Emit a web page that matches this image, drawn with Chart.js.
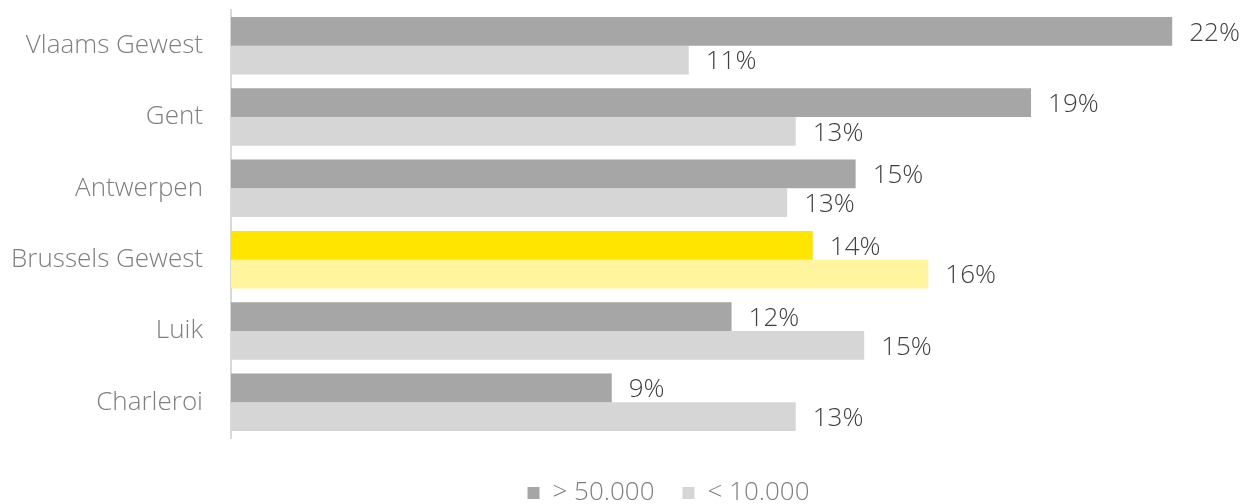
<!DOCTYPE html>
<html>
<head>
<meta charset="utf-8">
<script src="https://cdn.jsdelivr.net/npm/chart.js@4/dist/chart.umd.min.js"></script>
<style>
html,body{margin:0;padding:0;background:#fff;}
#wrap{width:1256px;height:504px;position:relative;}
</style>
</head>
<body>
<div id="wrap"><canvas id="c" width="1256" height="504"></canvas></div>
<script>
const categories = ["Vlaams Gewest", "Gent", "Antwerpen", "Brussels Gewest", "Luik", "Charleroi"];
const seriesNames = ["> 50.000", "< 10.000"];
const valuesLarge = [22.0, 18.7, 14.6, 13.6, 11.7, 8.9];
const valuesSmall = [10.7, 13.2, 13.0, 16.3, 14.8, 13.2];
const highlightCategory = "Brussels Gewest";

const FONT = "'Open Sans', sans-serif";
const colorsLarge = {normal: "#A6A6A6", highlight: "#FFE600"};
const colorsSmall = {normal: "#D6D6D6", highlight: "#FFF59E"};

function colorFor(set) {
  return function(ctx) {
    if (ctx.dataIndex !== undefined && categories[ctx.dataIndex] === highlightCategory) return set.highlight;
    return set.normal;
  };
}

const valueLabels = {
  id: "valueLabels",
  afterDatasetsDraw(chart) {
    const ctx = chart.ctx;
    ctx.save();
    ctx.font = "300 26px " + FONT;
    ctx.fillStyle = "#404040";
    ctx.textAlign = "left";
    ctx.textBaseline = "middle";
    chart.data.datasets.forEach((ds, di) => {
      const meta = chart.getDatasetMeta(di);
      meta.data.forEach((bar, i) => {
        ctx.fillText(Math.round(ds.data[i]) + "%", bar.x + 17, bar.y + 2);
      });
    });
    ctx.restore();
  }
};

const legendShift = {
  id: "legendShift",
  afterLayout(chart) {
    const lg = chart.legend;
    if (!lg) return;
    const dx = 61, dy = 14;
    lg.left += dx; lg.right += dx;
    lg.top += dy; lg.bottom += dy;
  }
};

new Chart(document.getElementById("c"), {
  type: "bar",
  data: {
    labels: categories,
    datasets: [
      {label: seriesNames[0], data: valuesLarge, backgroundColor: colorFor(colorsLarge), borderWidth: 0},
      {label: seriesNames[1], data: valuesSmall, backgroundColor: colorFor(colorsSmall), borderWidth: 0}
    ]
  },
  options: {
    indexAxis: "y",
    responsive: false,
    animation: false,
    devicePixelRatio: 1,
    layout: {padding: {top: 10, right: 41, bottom: 2, left: 0}},
    datasets: {bar: {categoryPercentage: 0.805, barPercentage: 1.0}},
    scales: {
      x: {display: false, min: 0, max: 23},
      y: {
        grid: {display: false, drawTicks: false},
        border: {display: true, color: "#D9D9D9", width: 2},
        ticks: {color: "#7F7F7F", font: {family: FONT, size: 26, weight: 300}, padding: 28},
        afterFit(scale) { scale.width = 231; scale.paddingTop = 0; scale.paddingBottom = 0; }
      }
    },
    plugins: {
      legend: {
        position: "bottom",
        labels: {
          color: "#7F7F7F",
          font: {family: FONT, size: 26, weight: 300},
          boxWidth: 12, boxHeight: 12, padding: 28
        }
      },
      tooltip: {enabled: false}
    }
  },
  plugins: [valueLabels, legendShift]
});
</script>
</body>
</html>
